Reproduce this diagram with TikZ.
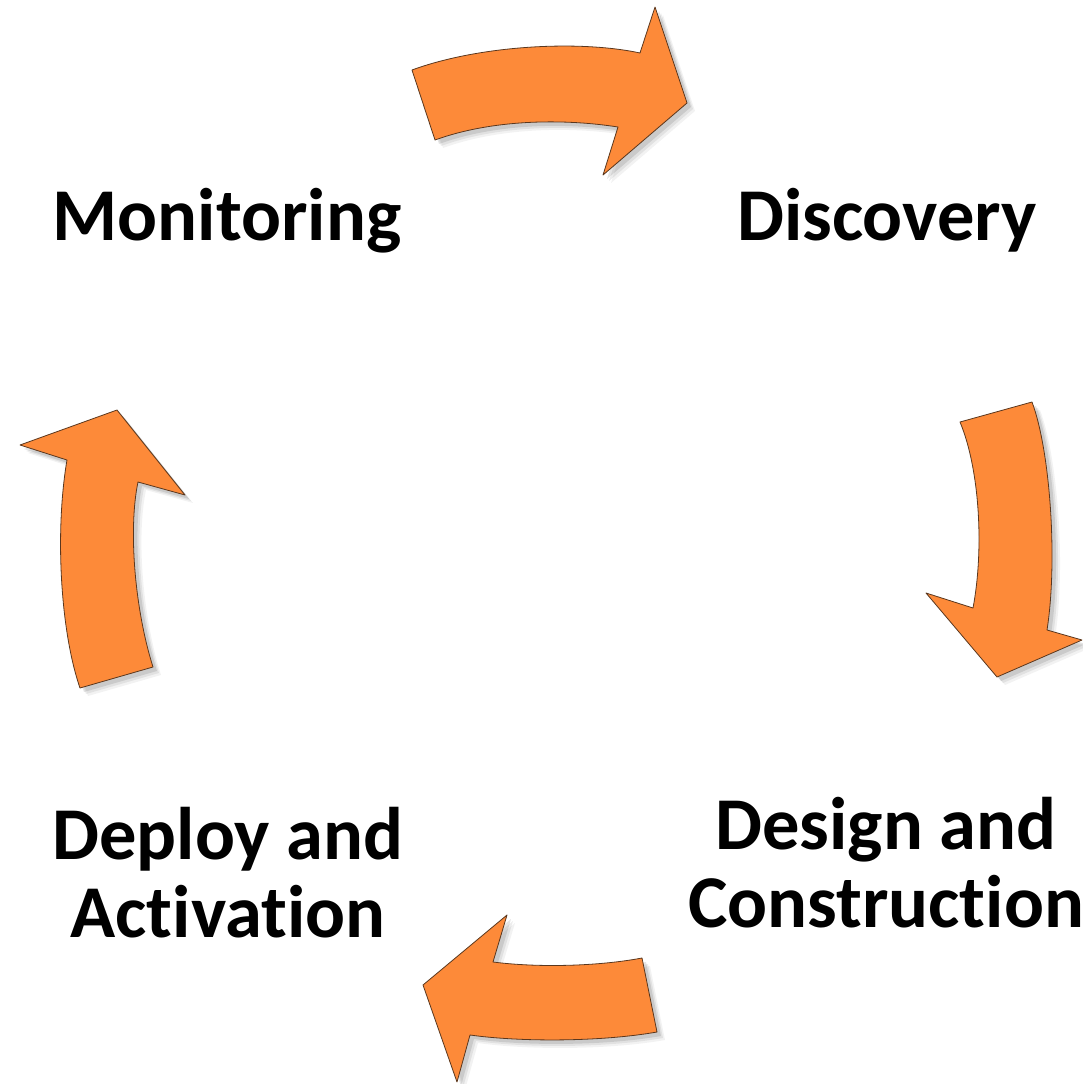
\documentclass[tikz,border=0pt]{standalone}
\usepackage{fontspec}
\setmainfont{Carlito}[Ligatures=NoCommon]
\definecolor{arrfill}{RGB}{253,138,57}
\definecolor{arrline}{RGB}{90,55,30}
\tikzset{
  x=1pt, y=-1pt,
  arrowshape/.style={fill=arrfill, draw=arrline, line width=0.8pt, line join=round,
    preaction={fill=black, opacity=0.05, transform canvas={shift={(8pt,-8pt)}}},
    preaction={fill=black, opacity=0.07, transform canvas={shift={(6pt,-6pt)}}},
    preaction={fill=black, opacity=0.10, transform canvas={shift={(4pt,-4pt)}}}},
  label/.style={font=\fontsize{74.5}{78}\selectfont\bfseries, inner sep=0pt, align=center}
}
\begin{document}
\begin{tikzpicture}
\useasboundingbox (0,0) rectangle (1082,1084);
% top arrow
\path[arrowshape] (412,70) .. controls (480,45) and (580,40) .. (640,53)
  -- (655,7) -- (687,103) -- (603,175) -- (618,127)
  .. controls (560,118) and (490,120) .. (435,140) -- cycle;
% right arrow
\path[arrowshape] (960,422) -- (1032,402)
  .. controls (1050,450) and (1058,560) .. (1047,630)
  -- (1082,640) -- (997,677) -- (926,593) -- (973,608)
  .. controls (984,550) and (980,470) .. (960,422) -- cycle;
% bottom arrow
\path[arrowshape] (642,958) -- (657,1032)
  .. controls (600,1042) and (520,1042) .. (470,1035)
  -- (457,1082) -- (423,985) -- (507,915) -- (493,962)
  .. controls (540,968) and (600,966) .. (642,958) -- cycle;
% left arrow
\path[arrowshape] (80,688) -- (153,667)
  .. controls (135,610) and (128,530) .. (138,482)
  -- (185,495) -- (117,410) -- (20,445) -- (67,460)
  .. controls (55,530) and (60,630) .. (80,688) -- cycle;
% labels
\node[label, anchor=base] (mon) at (227,240) {Monitoring};
\node[label, anchor=base] (disc) at (887,240) {Discovery};
\node[label, anchor=base] (dep) at (228,937) {Deploy and\\Activation};
\node[label, anchor=base] (des) at (886,927) {Design and\\Construction};
\end{tikzpicture}
\end{document}
